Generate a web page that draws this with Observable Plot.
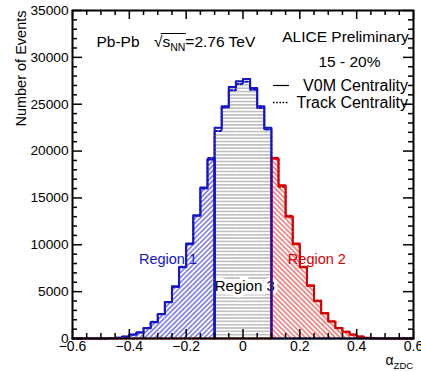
<!DOCTYPE html>
<html><head><meta charset="utf-8">
<script src="https://cdn.jsdelivr.net/npm/d3@7"></script>
<script src="https://cdn.jsdelivr.net/npm/@observablehq/plot@0.6"></script>
<style>body{margin:0;background:#fff}svg{display:block}</style>
</head><body><div id="chart"></div>
<script>
// ---- data ----
const binStart = -0.6;
const binWidth = 0.025;
// V0M centrality histogram (48 bins from -0.6 to 0.6)
const v0mCounts = [0,0,0,0,5,25,70,210,425,640,1130,1740,2620,3870,5570,7590,10140,13090,16100,19100,
  22480,24790,26840,27450,27700,26740,24790,22480,
  19180,16350,12980,10140,7590,5670,4010,2730,1810,1130,710,425,210,70,25,5,0,0,0,0];
// Track centrality histogram
const trackCounts = [0,0,0,0,5,20,80,200,400,660,1100,1780,2580,3900,5500,7650,10050,13150,16000,19250,
  22150,24650,26500,27150,27400,26550,24600,22300,
  19300,16200,13100,10050,7650,5600,4050,2680,1850,1100,730,410,220,65,20,5,0,0,0,0];
// region boundaries as bin indices: Region 1 [0,20), Region 3 [20,28), Region 2 [28,48)
const regionNames = ["Region 1", "Region 3", "Region 2"];
const regionBins = [[0, 20], [20, 28], [28, 48]];
const regionLabelX = [-0.264, 0.006, 0.26];
const regionLabelY = [7980, 5080, 7980];
const xTicks = [-0.6, -0.4, -0.2, 0, 0.2, 0.4, 0.6];
const yTicks = [0, 5000, 10000, 15000, 20000, 25000, 30000, 35000];
const legendLabels = ["V0M Centrality", "Track Centrality"];
const headerLeft = "Pb-Pb √sNN=2.76 TeV";
const headerRight = ["ALICE Preliminary", "15 - 20%"];

// ---- styles ----
const BLUE = "#1414c8", RED = "#d80000";
const FONT = "'Liberation Sans', Arial, Helvetica, sans-serif";
const W = 421, H = 372, mL = 72, mR = 8, mT = 10, mB = 34;
const fw = W - mL - mR, fh = H - mT - mB;
const HF = 15.5;

const edge = i => +(binStart + i * binWidth).toFixed(4);
const bins = v0mCounts.map((v, i) => ({x0: edge(i), x1: edge(i + 1), v, t: trackCounts[i], i}));
const regionOf = i => regionBins.findIndex(([a, b]) => i >= a && i < b);

function stepPts(key, [lo, hi], from, to) {
  const val = i => (i >= lo && i < hi) ? bins[i][key] : 0;
  const pts = [{x: edge(from), y: 0}];
  for (let i = from; i < to; i++) pts.push({x: edge(i), y: val(i)});
  pts.push({x: edge(to), y: val(to - 1)});
  pts.push({x: edge(to), y: 0});
  return pts;
}

const xMinor = d3.range(-12, 13).map(k => +(k * 0.05).toFixed(2)).filter(v => !xTicks.some(t => Math.abs(t - v) < 1e-9));
const yMinor = d3.range(0, 35001, 1000).filter(v => v % 5000 !== 0);
const tickStyle = {stroke: "black", strokeWidth: 1.5};

const fills = ["url(#hatch1)", "url(#hatch3)", "url(#hatch2)"];
const lineCols = [BLUE, BLUE, RED];

const svg = Plot.plot({
  width: W, height: H, marginLeft: mL, marginRight: mR, marginTop: mT, marginBottom: mB,
  style: {fontFamily: FONT, background: "white"},
  x: {domain: [-0.6, 0.6]},
  y: {domain: [0, 35000]},
  marks: [
    // hatched fills
    ...regionBins.map((rb, r) => Plot.rectY(bins.filter(b => regionOf(b.i) === r), {x1: "x0", x2: "x1", y: "v", fill: fills[r], inset: 0})),
    // Region 3 label with white background
    Plot.text([regionNames[1]], {x: regionLabelX[1], y: regionLabelY[1], text: d => d, fill: "black", stroke: "white", strokeWidth: 7, strokeLinejoin: "miter", fontSize: 15, lineAnchor: "bottom"}),
    // V0M solid outlines
    Plot.line(stepPts("v", regionBins[0], 0, 20), {x: "x", y: "y", curve: "step-after", stroke: BLUE, strokeWidth: 2}),
    Plot.line(stepPts("v", regionBins[1], 20, 28), {x: "x", y: "y", curve: "step-after", stroke: BLUE, strokeWidth: 2}),
    Plot.line(stepPts("v", regionBins[2], 28, 48), {x: "x", y: "y", curve: "step-after", stroke: RED, strokeWidth: 2}),
    // Track dotted outlines
    Plot.line(stepPts("t", regionBins[0], 0, 20), {x: "x", y: "y", curve: "step-after", stroke: BLUE, strokeWidth: 2, strokeDasharray: "2,2"}),
    Plot.line(stepPts("t", regionBins[2], 0, 48), {x: "x", y: "y", curve: "step-after", stroke: RED, strokeWidth: 2, strokeDasharray: "2,2"}),
    Plot.line(stepPts("t", regionBins[1], 20, 48), {x: "x", y: "y", curve: "step-after", stroke: BLUE, strokeWidth: 2, strokeDasharray: "2,2"}),
    // region labels 1 and 2
    Plot.text([0, 2], {x: r => regionLabelX[r], y: r => regionLabelY[r], text: r => regionNames[r], fill: r => lineCols[r], fontSize: 14.5, lineAnchor: "bottom"}),
    // ticks (inward, all four sides)
    Plot.ruleX(xTicks, {x: d => d, insetTop: fh - 9, ...tickStyle}),
    Plot.ruleX(xMinor, {x: d => d, insetTop: fh - 5, ...tickStyle}),
    Plot.ruleX(xTicks, {x: d => d, insetBottom: fh - 9, ...tickStyle}),
    Plot.ruleX(xMinor, {x: d => d, insetBottom: fh - 5, ...tickStyle}),
    Plot.ruleY(yTicks, {y: d => d, insetRight: fw - 10, ...tickStyle}),
    Plot.ruleY(yMinor, {y: d => d, insetRight: fw - 5, ...tickStyle}),
    Plot.ruleY(yTicks, {y: d => d, insetLeft: fw - 10, ...tickStyle}),
    Plot.ruleY(yMinor, {y: d => d, insetLeft: fw - 5, ...tickStyle}),
    Plot.frame({stroke: "black", strokeWidth: 2}),
    Plot.axisX(xTicks, {tickSize: 0, tickPadding: 3, fontSize: 14, label: null, fill: "black", tickFormat: d => d === 0 ? "0" : (d < 0 ? "\u2212" : "") + Math.abs(d).toFixed(1)}),
    Plot.axisY(yTicks, {tickSize: 0, tickPadding: 4, fontSize: 13.7, label: null, fill: "black", tickFormat: d => String(d)}),
    // titles
    Plot.text(["Number of Events"], {frameAnchor: "top-left", text: d => d, rotate: -90, textAnchor: "end", lineAnchor: "middle", dx: -51.5, dy: 0, fontSize: 14.5, fill: "black"}),
    Plot.text(["αZDC"], {frameAnchor: "bottom-right", text: d => d, textAnchor: "start", lineAnchor: "bottom", dx: -28, dy: 26, fontSize: 14, fill: "black"}),
    Plot.text([headerLeft], {frameAnchor: "top-left", text: d => d, textAnchor: "start", lineAnchor: "bottom", dx: 24, dy: 36, fontSize: HF, fill: "black"}),
    Plot.text([headerRight[0]], {frameAnchor: "top-left", text: d => d, textAnchor: "middle", lineAnchor: "bottom", dx: 273, dy: 31, fontSize: HF, fill: "black"}),
    Plot.text([headerRight[1]], {frameAnchor: "top-left", text: d => d, textAnchor: "middle", lineAnchor: "bottom", dx: 277, dy: 56, fontSize: HF, fill: "black"}),
    Plot.text(legendLabels, {frameAnchor: "top-left", text: d => d, textAnchor: "end", lineAnchor: "bottom", fontSize: 16, fill: "black"}),
  ]
});

document.getElementById("chart").appendChild(svg);
const S = d3.select(svg);

// hatch patterns
const defs = S.insert("defs", ":first-child");
function hatch(id, angle, color, size, width) {
  const p = defs.append("pattern").attr("id", id).attr("patternUnits", "userSpaceOnUse")
    .attr("width", size).attr("height", 10).attr("patternTransform", `rotate(${angle})`);
  p.append("line").attr("x1", size / 2).attr("x2", size / 2).attr("y1", 0).attr("y2", 10)
    .attr("stroke", color).attr("stroke-width", width);
}
hatch("hatch1", 45, "#2a2ae0", 3.5, 1);
hatch("hatch2", -45, "#ee2a2a", 3.5, 1);
hatch("hatch3", 90, "#888888", 3.33, 0.9);

// legend: right-aligned labels with swatches on the left
const legendY = [91, 108];
const legendRight = 408;
S.selectAll("text").filter(function () { return legendLabels.includes(this.textContent); })
  .each(function () {
    const k = legendLabels.indexOf(this.textContent);
    this.removeAttribute("x"); this.removeAttribute("y");
    this.setAttribute("transform", `translate(${legendRight},${legendY[k]})`);
    const g = this.parentNode;
    if (g && g.tagName === "g") g.removeAttribute("transform");
    d3.select(g.parentNode).append("line")
      .attr("x1", 273).attr("x2", 289).attr("y1", legendY[k] - 5.5).attr("y2", legendY[k] - 5.5)
      .attr("stroke", "black").attr("stroke-width", k === 0 ? 1.2 : 1.6)
      .attr("stroke-dasharray", k === 0 ? null : "1.6,1.6");
  });

// rich text: sqrt(s_NN) and alpha_ZDC
S.selectAll("text").filter(function () { return this.textContent === headerLeft; }).each(function () {
  const t = d3.select(this);
  t.text(null);
  t.append("tspan").text("Pb-Pb ");
  t.append("tspan").attr("dx", 10).text("√");
  t.append("tspan").text("s");
  t.append("tspan").attr("dy", 4).attr("font-size", 10.5).text("NN");
  t.append("tspan").attr("dy", -4).text("=2.76 TeV");
  const a = this.getExtentOfChar(6), b = this.getExtentOfChar(9);
  d3.select(this.parentNode).append("line")
    .attr("transform", this.getAttribute("transform"))
    .attr("x1", a.x + a.width * 0.8).attr("x2", b.x + b.width + 0.5)
    .attr("y1", a.y + 1).attr("y2", a.y + 1)
    .attr("stroke", "black").attr("stroke-width", 1);
});
S.selectAll("text").filter(function () { return this.textContent === "αZDC"; }).each(function () {
  const t = d3.select(this);
  t.text(null);
  t.append("tspan").text("α");
  t.append("tspan").attr("dy", 4).attr("font-size", 9.5).text("ZDC");
});
</script></body></html>
